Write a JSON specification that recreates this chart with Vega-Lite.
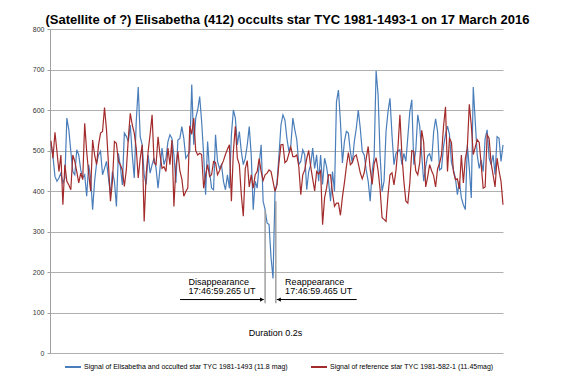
{
"$schema":"https://vega.github.io/schema/vega-lite/v6.json",
"width":453,"height":324,"autosize":"none",
"padding":{"left":50,"top":29,"right":64,"bottom":25},
"config":{"font":"Liberation Sans","view":{"stroke":null}},
"title":{"text":"(Satellite of ?) Elisabetha (412) occults star TYC 1981-1493-1 on 17 March 2016","fontSize":13,"fontWeight":"bold","font":"Liberation Sans","color":"#000000","anchor":"middle","frame":"group","dx":11,"dy":16,"offset":4,"baseline":"alphabetic"},
"datasets":{
"sig":[
{"i":0,"s":"E","v":518},{"i":1,"s":"E","v":485},{"i":2,"s":"E","v":436},{"i":3,"s":"E","v":424},{"i":4,"s":"E","v":432},{"i":5,"s":"E","v":444},{"i":6,"s":"E","v":420},{"i":7,"s":"E","v":432},{"i":8,"s":"E","v":580},{"i":9,"s":"E","v":551},
{"i":10,"s":"E","v":498},{"i":11,"s":"E","v":448},{"i":12,"s":"E","v":440},{"i":13,"s":"E","v":502},{"i":14,"s":"E","v":489},{"i":15,"s":"E","v":452},{"i":16,"s":"E","v":432},{"i":17,"s":"E","v":440},{"i":18,"s":"E","v":387},{"i":19,"s":"E","v":465},
{"i":20,"s":"E","v":432},{"i":21,"s":"E","v":354},{"i":22,"s":"E","v":424},{"i":23,"s":"E","v":469},{"i":24,"s":"E","v":489},{"i":25,"s":"E","v":498},{"i":26,"s":"E","v":440},{"i":27,"s":"E","v":456},{"i":28,"s":"E","v":473},{"i":29,"s":"E","v":432},
{"i":30,"s":"E","v":391},{"i":31,"s":"E","v":448},{"i":32,"s":"E","v":424},{"i":33,"s":"E","v":362},{"i":34,"s":"E","v":493},{"i":35,"s":"E","v":460},{"i":36,"s":"E","v":415},{"i":37,"s":"E","v":543},{"i":38,"s":"E","v":535},{"i":39,"s":"E","v":522},
{"i":40,"s":"E","v":563},{"i":41,"s":"E","v":489},{"i":42,"s":"E","v":432},{"i":43,"s":"E","v":571},{"i":44,"s":"E","v":657},{"i":45,"s":"E","v":534},{"i":46,"s":"E","v":514},{"i":47,"s":"E","v":440},{"i":48,"s":"E","v":416},{"i":49,"s":"E","v":489},
{"i":50,"s":"E","v":444},{"i":51,"s":"E","v":465},{"i":52,"s":"E","v":481},{"i":53,"s":"E","v":456},{"i":54,"s":"E","v":407},{"i":55,"s":"E","v":456},{"i":56,"s":"E","v":506},{"i":57,"s":"E","v":465},{"i":58,"s":"E","v":481},{"i":59,"s":"E","v":522},
{"i":60,"s":"E","v":539},{"i":61,"s":"E","v":530},{"i":62,"s":"E","v":489},{"i":63,"s":"E","v":420},{"i":64,"s":"E","v":526},{"i":65,"s":"E","v":530},{"i":66,"s":"E","v":559},{"i":67,"s":"E","v":530},{"i":68,"s":"E","v":481},{"i":69,"s":"E","v":489},
{"i":70,"s":"E","v":498},{"i":71,"s":"E","v":663},{"i":72,"s":"E","v":514},{"i":73,"s":"E","v":580},{"i":74,"s":"E","v":600},{"i":75,"s":"E","v":633},{"i":76,"s":"E","v":571},{"i":77,"s":"E","v":489},{"i":78,"s":"E","v":391},{"i":79,"s":"E","v":522},
{"i":80,"s":"E","v":448},{"i":81,"s":"E","v":407},{"i":82,"s":"E","v":403},{"i":83,"s":"E","v":539},{"i":84,"s":"E","v":473},{"i":85,"s":"E","v":456},{"i":86,"s":"E","v":465},{"i":87,"s":"E","v":424},{"i":88,"s":"E","v":403},{"i":89,"s":"E","v":440},
{"i":90,"s":"E","v":407},{"i":91,"s":"E","v":539},{"i":92,"s":"E","v":600},{"i":93,"s":"E","v":580},{"i":94,"s":"E","v":514},{"i":95,"s":"E","v":547},{"i":96,"s":"E","v":498},{"i":97,"s":"E","v":465},{"i":98,"s":"E","v":481},{"i":99,"s":"E","v":514},
{"i":100,"s":"E","v":559},{"i":101,"s":"E","v":489},{"i":102,"s":"E","v":354},{"i":103,"s":"E","v":424},{"i":104,"s":"E","v":407},{"i":105,"s":"E","v":465},{"i":106,"s":"E","v":514},{"i":107,"s":"E","v":375},{"i":108,"s":"E","v":354},{"i":109,"s":"E","v":321},
{"i":110,"s":"E","v":317},{"i":111,"s":"E","v":235},{"i":112,"s":"E","v":184},{"i":113,"s":"E","v":398},{"i":114,"s":"E","v":420},{"i":115,"s":"E","v":489},{"i":116,"s":"E","v":563},{"i":117,"s":"E","v":588},{"i":118,"s":"E","v":575},{"i":119,"s":"E","v":530},
{"i":120,"s":"E","v":498},{"i":121,"s":"E","v":514},{"i":122,"s":"E","v":580},{"i":123,"s":"E","v":551},{"i":124,"s":"E","v":526},{"i":125,"s":"E","v":465},{"i":126,"s":"E","v":473},{"i":127,"s":"E","v":502},{"i":128,"s":"E","v":489},{"i":129,"s":"E","v":403},
{"i":130,"s":"E","v":448},{"i":131,"s":"E","v":465},{"i":132,"s":"E","v":506},{"i":133,"s":"E","v":456},{"i":134,"s":"E","v":489},{"i":135,"s":"E","v":424},{"i":136,"s":"E","v":489},{"i":137,"s":"E","v":416},{"i":138,"s":"E","v":481},{"i":139,"s":"E","v":460},
{"i":140,"s":"E","v":424},{"i":141,"s":"E","v":375},{"i":142,"s":"E","v":448},{"i":143,"s":"E","v":399},{"i":144,"s":"E","v":620},{"i":145,"s":"E","v":649},{"i":146,"s":"E","v":571},{"i":147,"s":"E","v":469},{"i":148,"s":"E","v":522},{"i":149,"s":"E","v":547},
{"i":150,"s":"E","v":543},{"i":151,"s":"E","v":498},{"i":152,"s":"E","v":469},{"i":153,"s":"E","v":522},{"i":154,"s":"E","v":555},{"i":155,"s":"E","v":600},{"i":156,"s":"E","v":555},{"i":157,"s":"E","v":498},{"i":158,"s":"E","v":489},{"i":159,"s":"E","v":452},
{"i":160,"s":"E","v":424},{"i":161,"s":"E","v":375},{"i":162,"s":"E","v":448},{"i":163,"s":"E","v":485},{"i":164,"s":"E","v":697},{"i":165,"s":"E","v":637},{"i":166,"s":"E","v":489},{"i":167,"s":"E","v":399},{"i":168,"s":"E","v":424},{"i":169,"s":"E","v":547},
{"i":170,"s":"E","v":596},{"i":171,"s":"E","v":629},{"i":172,"s":"E","v":539},{"i":173,"s":"E","v":465},{"i":174,"s":"E","v":493},{"i":175,"s":"E","v":498},{"i":176,"s":"E","v":502},{"i":177,"s":"E","v":465},{"i":178,"s":"E","v":493},{"i":179,"s":"E","v":473},
{"i":180,"s":"E","v":534},{"i":181,"s":"E","v":596},{"i":182,"s":"E","v":625},{"i":183,"s":"E","v":465},{"i":184,"s":"E","v":500},{"i":185,"s":"E","v":588},{"i":186,"s":"E","v":560},{"i":187,"s":"E","v":489},{"i":188,"s":"E","v":424},{"i":189,"s":"E","v":460},
{"i":190,"s":"E","v":487},{"i":191,"s":"E","v":492},{"i":192,"s":"E","v":473},{"i":193,"s":"E","v":545},{"i":194,"s":"E","v":578},{"i":195,"s":"E","v":547},{"i":196,"s":"E","v":452},{"i":197,"s":"E","v":456},{"i":198,"s":"E","v":510},{"i":199,"s":"E","v":540},
{"i":200,"s":"E","v":560},{"i":201,"s":"E","v":539},{"i":202,"s":"E","v":470},{"i":203,"s":"E","v":452},{"i":204,"s":"E","v":432},{"i":205,"s":"E","v":391},{"i":206,"s":"E","v":424},{"i":207,"s":"E","v":383},{"i":208,"s":"E","v":366},{"i":209,"s":"E","v":354},
{"i":210,"s":"E","v":514},{"i":211,"s":"E","v":456},{"i":212,"s":"E","v":383},{"i":213,"s":"E","v":657},{"i":214,"s":"E","v":571},{"i":215,"s":"E","v":489},{"i":216,"s":"E","v":456},{"i":217,"s":"E","v":477},{"i":218,"s":"E","v":448},{"i":219,"s":"E","v":530},
{"i":220,"s":"E","v":551},{"i":221,"s":"E","v":481},{"i":222,"s":"E","v":465},{"i":223,"s":"E","v":489},{"i":224,"s":"E","v":440},{"i":225,"s":"E","v":534},{"i":226,"s":"E","v":530},{"i":227,"s":"E","v":473},{"i":228,"s":"E","v":514},
{"i":0,"s":"R","v":524},{"i":1,"s":"R","v":481},{"i":2,"s":"R","v":545},{"i":3,"s":"R","v":498},{"i":4,"s":"R","v":448},{"i":5,"s":"R","v":489},{"i":6,"s":"R","v":366},{"i":7,"s":"R","v":465},{"i":8,"s":"R","v":424},{"i":9,"s":"R","v":415},
{"i":10,"s":"R","v":403},{"i":11,"s":"R","v":489},{"i":12,"s":"R","v":473},{"i":13,"s":"R","v":448},{"i":14,"s":"R","v":420},{"i":15,"s":"R","v":444},{"i":16,"s":"R","v":428},{"i":17,"s":"R","v":567},{"i":18,"s":"R","v":498},{"i":19,"s":"R","v":444},
{"i":20,"s":"R","v":400},{"i":21,"s":"R","v":526},{"i":22,"s":"R","v":489},{"i":23,"s":"R","v":465},{"i":24,"s":"R","v":514},{"i":25,"s":"R","v":543},{"i":26,"s":"R","v":547},{"i":27,"s":"R","v":606},{"i":28,"s":"R","v":551},{"i":29,"s":"R","v":465},
{"i":30,"s":"R","v":375},{"i":31,"s":"R","v":424},{"i":32,"s":"R","v":522},{"i":33,"s":"R","v":518},{"i":34,"s":"R","v":473},{"i":35,"s":"R","v":465},{"i":36,"s":"R","v":452},{"i":37,"s":"R","v":411},{"i":38,"s":"R","v":452},{"i":39,"s":"R","v":530},
{"i":40,"s":"R","v":592},{"i":41,"s":"R","v":563},{"i":42,"s":"R","v":543},{"i":43,"s":"R","v":506},{"i":44,"s":"R","v":432},{"i":45,"s":"R","v":480},{"i":46,"s":"R","v":514},{"i":47,"s":"R","v":325},{"i":48,"s":"R","v":440},{"i":49,"s":"R","v":498},
{"i":50,"s":"R","v":540},{"i":51,"s":"R","v":588},{"i":52,"s":"R","v":470},{"i":53,"s":"R","v":465},{"i":54,"s":"R","v":534},{"i":55,"s":"R","v":489},{"i":56,"s":"R","v":456},{"i":57,"s":"R","v":460},{"i":58,"s":"R","v":448},{"i":59,"s":"R","v":506},
{"i":60,"s":"R","v":465},{"i":61,"s":"R","v":526},{"i":62,"s":"R","v":362},{"i":63,"s":"R","v":460},{"i":64,"s":"R","v":498},{"i":65,"s":"R","v":450},{"i":66,"s":"R","v":430},{"i":67,"s":"R","v":387},{"i":68,"s":"R","v":399},{"i":69,"s":"R","v":407},
{"i":70,"s":"R","v":561},{"i":71,"s":"R","v":540},{"i":72,"s":"R","v":580},{"i":73,"s":"R","v":500},{"i":74,"s":"R","v":489},{"i":75,"s":"R","v":493},{"i":76,"s":"R","v":490},{"i":77,"s":"R","v":407},{"i":78,"s":"R","v":440},{"i":79,"s":"R","v":465},
{"i":80,"s":"R","v":436},{"i":81,"s":"R","v":440},{"i":82,"s":"R","v":473},{"i":83,"s":"R","v":470},{"i":84,"s":"R","v":440},{"i":85,"s":"R","v":450},{"i":86,"s":"R","v":463},{"i":87,"s":"R","v":475},{"i":88,"s":"R","v":490},{"i":89,"s":"R","v":503},
{"i":90,"s":"R","v":514},{"i":91,"s":"R","v":375},{"i":92,"s":"R","v":498},{"i":93,"s":"R","v":560},{"i":94,"s":"R","v":481},{"i":95,"s":"R","v":465},{"i":96,"s":"R","v":391},{"i":97,"s":"R","v":338},{"i":98,"s":"R","v":455},{"i":99,"s":"R","v":475},
{"i":100,"s":"R","v":410},{"i":101,"s":"R","v":440},{"i":102,"s":"R","v":407},{"i":103,"s":"R","v":440},{"i":104,"s":"R","v":448},{"i":105,"s":"R","v":480},{"i":106,"s":"R","v":448},{"i":107,"s":"R","v":426},{"i":108,"s":"R","v":440},{"i":109,"s":"R","v":444},
{"i":110,"s":"R","v":452},{"i":111,"s":"R","v":448},{"i":112,"s":"R","v":424},{"i":113,"s":"R","v":399},{"i":114,"s":"R","v":415},{"i":115,"s":"R","v":470},{"i":116,"s":"R","v":514},{"i":117,"s":"R","v":515},{"i":118,"s":"R","v":470},{"i":119,"s":"R","v":475},
{"i":120,"s":"R","v":492},{"i":121,"s":"R","v":508},{"i":122,"s":"R","v":485},{"i":123,"s":"R","v":485},{"i":124,"s":"R","v":489},{"i":125,"s":"R","v":460},{"i":126,"s":"R","v":391},{"i":127,"s":"R","v":440},{"i":128,"s":"R","v":452},{"i":129,"s":"R","v":480},
{"i":130,"s":"R","v":500},{"i":131,"s":"R","v":460},{"i":132,"s":"R","v":430},{"i":133,"s":"R","v":400},{"i":134,"s":"R","v":448},{"i":135,"s":"R","v":442},{"i":136,"s":"R","v":450},{"i":137,"s":"R","v":317},{"i":138,"s":"R","v":383},{"i":139,"s":"R","v":407},
{"i":140,"s":"R","v":440},{"i":141,"s":"R","v":440},{"i":142,"s":"R","v":395},{"i":143,"s":"R","v":362},{"i":144,"s":"R","v":370},{"i":145,"s":"R","v":370},{"i":146,"s":"R","v":340},{"i":147,"s":"R","v":385},{"i":148,"s":"R","v":420},{"i":149,"s":"R","v":460},
{"i":150,"s":"R","v":495},{"i":151,"s":"R","v":465},{"i":152,"s":"R","v":470},{"i":153,"s":"R","v":485},{"i":154,"s":"R","v":489},{"i":155,"s":"R","v":468},{"i":156,"s":"R","v":445},{"i":157,"s":"R","v":430},{"i":158,"s":"R","v":445},{"i":159,"s":"R","v":480},
{"i":160,"s":"R","v":510},{"i":161,"s":"R","v":455},{"i":162,"s":"R","v":416},{"i":163,"s":"R","v":467},{"i":164,"s":"R","v":482},{"i":165,"s":"R","v":450},{"i":166,"s":"R","v":405},{"i":167,"s":"R","v":334},{"i":168,"s":"R","v":330},{"i":169,"s":"R","v":325},
{"i":170,"s":"R","v":390},{"i":171,"s":"R","v":440},{"i":172,"s":"R","v":445},{"i":173,"s":"R","v":415},{"i":174,"s":"R","v":450},{"i":175,"s":"R","v":506},{"i":176,"s":"R","v":588},{"i":177,"s":"R","v":490},{"i":178,"s":"R","v":424},{"i":179,"s":"R","v":375},
{"i":180,"s":"R","v":370},{"i":181,"s":"R","v":420},{"i":182,"s":"R","v":500},{"i":183,"s":"R","v":498},{"i":184,"s":"R","v":450},{"i":185,"s":"R","v":440},{"i":186,"s":"R","v":470},{"i":187,"s":"R","v":550},{"i":188,"s":"R","v":520},{"i":189,"s":"R","v":410},
{"i":190,"s":"R","v":435},{"i":191,"s":"R","v":465},{"i":192,"s":"R","v":450},{"i":193,"s":"R","v":438},{"i":194,"s":"R","v":410},{"i":195,"s":"R","v":455},{"i":196,"s":"R","v":468},{"i":197,"s":"R","v":490},{"i":198,"s":"R","v":560},{"i":199,"s":"R","v":608},
{"i":200,"s":"R","v":448},{"i":201,"s":"R","v":530},{"i":202,"s":"R","v":520},{"i":203,"s":"R","v":448},{"i":204,"s":"R","v":428},{"i":205,"s":"R","v":430},{"i":206,"s":"R","v":405},{"i":207,"s":"R","v":489},{"i":208,"s":"R","v":420},{"i":209,"s":"R","v":480},
{"i":210,"s":"R","v":506},{"i":211,"s":"R","v":614},{"i":212,"s":"R","v":563},{"i":213,"s":"R","v":490},{"i":214,"s":"R","v":508},{"i":215,"s":"R","v":527},{"i":216,"s":"R","v":520},{"i":217,"s":"R","v":465},{"i":218,"s":"R","v":407},{"i":219,"s":"R","v":410},
{"i":220,"s":"R","v":539},{"i":221,"s":"R","v":530},{"i":222,"s":"R","v":468},{"i":223,"s":"R","v":440},{"i":224,"s":"R","v":410},{"i":225,"s":"R","v":481},{"i":226,"s":"R","v":450},{"i":227,"s":"R","v":424},{"i":228,"s":"R","v":366}
],
"vrules":[{"i":108.0,"v":123,"v2":352},{"i":113.4,"v":123,"v2":375}],
"arrows":[{"i":65.1,"i2":107.3,"v":132},{"i":113.9,"i2":154.2,"v":132}],
"headR":[{"i":106.4,"v":132}],
"headL":[{"i":115.0,"v":132}],
"labels":[{"i":69.3,"v":169,"t":"Disappearance"},{"i":69.3,"v":145,"t":"17:46:59.265 UT"},{"i":118.1,"v":169,"t":"Reappearance"},{"i":118.1,"v":145,"t":"17:46:59.465 UT"},{"i":99.7,"v":42,"t":"Duration 0.2s"}]
},
"layer":[
{"data":{"name":"sig"},
 "mark":{"type":"line","strokeWidth":1.2},
 "encoding":{
  "x":{"field":"i","type":"quantitative","scale":{"domain":[-0.5,228],"nice":false,"zero":false},"axis":null},
  "y":{"field":"v","type":"quantitative","scale":{"domain":[0,800],"nice":false},
       "axis":{"title":null,"values":[0,100,200,300,400,500,600,700,800],"labelFontSize":7,"labelColor":"#333333","labelFont":"Liberation Sans","tickSize":3,"tickColor":"#a0a0a0","domainColor":"#a0a0a0","gridColor":"#b0b0b0","gridWidth":1,"labelPadding":3}},
  "color":{"field":"s","type":"nominal","scale":{"domain":["E","R"],"range":["#4a7ebb","#a32b2b"]},
   "legend":{"title":null,"orient":"none","legendX":14,"legendY":329,"direction":"horizontal","labelExpr":"datum.value == 'E' ? 'Signal of Elisabetha and occulted star TYC 1981-1493 (11.8 mag)' : 'Signal of reference star TYC 1981-582-1 (11.45mag)'","labelFontSize":7,"labelFont":"Liberation Sans","labelColor":"#000000","symbolType":"stroke","symbolSize":256,"symbolStrokeWidth":2,"columnPadding":19,"labelOffset":2,"labelLimit":400}}
 }},
{"data":{"name":"vrules"},"mark":{"type":"rule","color":"#a0a0a0","strokeWidth":1.5},
 "encoding":{"x":{"field":"i","type":"quantitative"},"y":{"field":"v","type":"quantitative"},"y2":{"field":"v2"}}},
{"data":{"name":"arrows"},"mark":{"type":"rule","color":"#000000","strokeWidth":1},
 "encoding":{"x":{"field":"i","type":"quantitative"},"x2":{"field":"i2"},"y":{"field":"v","type":"quantitative"}}},
{"data":{"name":"headR"},"mark":{"type":"point","shape":"triangle-right","filled":true,"color":"#000000","size":18,"opacity":1},
 "encoding":{"x":{"field":"i","type":"quantitative"},"y":{"field":"v","type":"quantitative"}}},
{"data":{"name":"headL"},"mark":{"type":"point","shape":"triangle-left","filled":true,"color":"#000000","size":18,"opacity":1},
 "encoding":{"x":{"field":"i","type":"quantitative"},"y":{"field":"v","type":"quantitative"}}},
{"data":{"name":"labels"},"mark":{"type":"text","align":"left","baseline":"alphabetic","fontSize":9,"font":"Liberation Sans","color":"#000000"},
 "encoding":{"x":{"field":"i","type":"quantitative"},"y":{"field":"v","type":"quantitative"},"text":{"field":"t"}}}
]
}
